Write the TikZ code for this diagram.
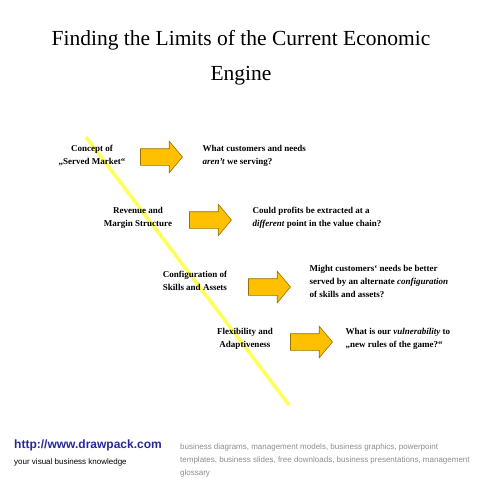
\documentclass[tikz,border=0pt]{standalone}
\usepackage{fontspec}
\setmainfont{Liberation Serif}
\setsansfont{Liberation Sans}
\usetikzlibrary{positioning, shapes.arrows}

\definecolor{arrowgold}{RGB}{255,192,0}
\definecolor{arrowedge}{RGB}{150,115,0}
\definecolor{pathyellow}{RGB}{255,255,90}
\definecolor{linkblue}{RGB}{40,40,150}
\definecolor{footgrey}{RGB}{140,140,140}

\begin{document}
\begin{tikzpicture}[
					x=1pt, y=-1pt,
					stage/.style={font=\bfseries\fontsize{9}{13}\selectfont, align=center},
					question/.style={font=\bfseries\fontsize{9}{13}\selectfont, align=left, anchor=west},
					push/.style={single arrow, draw=arrowedge, fill=arrowgold, line width=0.6pt,
						minimum height=42pt, single arrow head extend=7.5pt,
						single arrow tip angle=100, inner xsep=0pt, inner ysep=8pt}
					]
					\useasboundingbox (0,0) rectangle (480,480);
					% title
					\node (title) at (241,58) [align=center, font=\fontsize{21.5}{35}\selectfont]
					{Finding the Limits of the Current Economic\\Engine};
					% diagonal line
					\coordinate (top) at (86,137);
					\coordinate (bottom) at (289,405);
					\draw[pathyellow, line width=3.5pt] (top) -- (bottom);
					% stages
					\node (served) at (92,156) [stage] {Concept of\\„Served Market“};
					\node (arrow1) at (158,157) [push] {};
					\node (q1) at (199,156) [question] {What customers and needs\\\textit{aren't} we serving?};
					\node (revenue) at (138,218) [stage] {Revenue and\\Margin Structure};
					\node (arrow2) at (207,220) [push] {};
					\node (q2) at (249,218) [question] {Could profits be extracted at a\\\textit{different} point in the value chain?};
					\node (skills) at (195,281) [stage] {Configuration of\\Skills and Assets};
					\node (arrow3) at (266,287) [push] {};
					\node (q3) at (306,281) [question] {Might customers‘ needs be better\\served by an alternate \textit{configuration}\\of skills and assets?};
					\node (flex) at (245,339) [stage] {Flexibility and\\Adaptiveness};
					\node (arrow4) at (308,342) [push] {};
					\node (q4) at (342,339) [question] {What is our \textit{vulnerability} to\\„new rules of the game?“};
					% footer
					\node (url) at (14,445) [anchor=west, font=\sffamily\bfseries\fontsize{12}{14}\selectfont, text=linkblue, inner sep=0pt]
					{http://www.drawpack.com};
					\node (slogan) at (14,462) [anchor=west, font=\sffamily\fontsize{8}{10}\selectfont, inner sep=0pt]
					{your visual business knowledge};
					\node (tags) at (180,448) [anchor=north west, font=\sffamily\fontsize{8}{13}\selectfont, text=footgrey, align=left, inner sep=0pt, yshift=5pt]
					{business diagrams, management models, business graphics, powerpoint\\templates, business slides, free downloads, business presentations, management\\glossary};
				\end{tikzpicture}
\end{document}
